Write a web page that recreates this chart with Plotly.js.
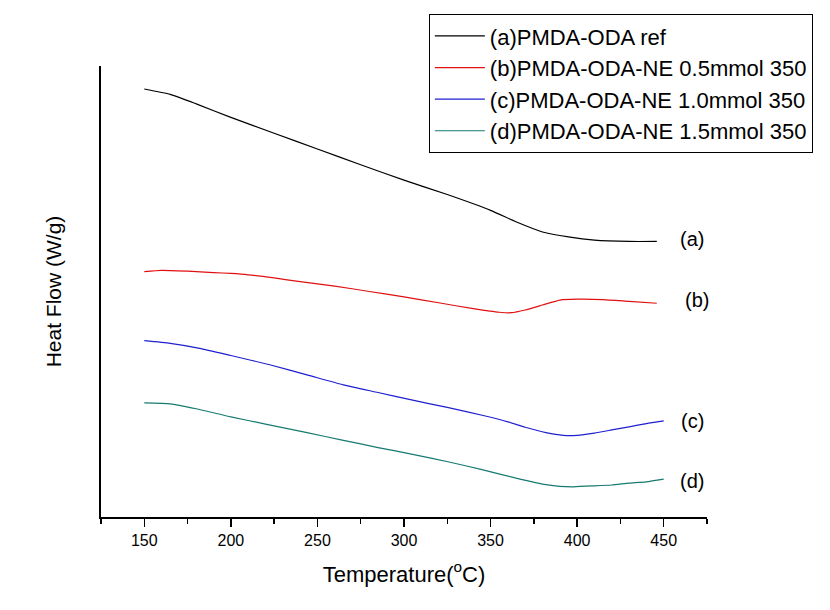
<!DOCTYPE html>
<html>
<head>
<meta charset="utf-8">
<script src="https://cdn.plot.ly/plotly-3.0.1.min.js"></script>
<style>html,body{margin:0;padding:0;background:#fff;}</style>
</head>
<body>
<div id="chart" style="width:830px;height:610px;"></div>
<script>
// Temperature (°C) and heat flow (arbitrary, offset units)
var tempA = [150,165,180,200,225,250,275,300,325,350,365,380,395,410,430,446];
var flowA = [94.9,93.7,91.6,88.6,85.1,81.6,78.1,74.7,71.5,68.0,65.4,63.2,62.1,61.4,61.1,61.1];

var tempB = [150,160,175,190,200,210,225,240,260,280,300,320,340,355,362,370,380,390,400,415,430,446];
var flowB = [54.4,54.7,54.5,54.2,54.0,53.7,53.0,52.2,51.2,50.0,48.8,47.5,46.2,45.4,45.3,45.9,47.0,48.1,48.3,48.2,47.8,47.4];

var tempC = [150,165,182,200,223,245,265,285,305,325,347,360,370,382,392,400,410,420,430,440,450];
var flowC = [39.1,38.5,37.4,35.8,33.7,31.4,29.3,27.6,25.9,24.3,22.4,21.1,19.9,18.7,18.1,18.1,18.6,19.3,20.0,20.7,21.3];

var tempD = [150,165,180,200,220,244,265,285,305,326,345,367,380,390,398,410,420,430,440,450];
var flowD = [25.3,25.1,24.0,22.2,20.6,18.7,17.0,15.4,13.9,12.2,10.5,8.4,7.3,6.8,6.7,6.9,7.1,7.5,7.8,8.4];

var seriesNames = ["(a)PMDA-ODA ref","(b)PMDA-ODA-NE 0.5mmol 350","(c)PMDA-ODA-NE 1.0mmol 350","(d)PMDA-ODA-NE 1.5mmol 350"];
var curveLabels = ["(a)","(b)","(c)","(d)"];
var labelX = [466.5, 469, 466.5, 466.5];
var labelY = [61.6, 48.1, 21.3, 8.0];
var colors = ["#000000","#e01010","#2020d0","#157a70"];

var xs = [tempA,tempB,tempC,tempD];
var ys = [flowA,flowB,flowC,flowD];
var FONT = "Arial, 'Liberation Sans', sans-serif";

var traces = xs.map(function(x,i){
  return {x:x, y:ys[i], type:"scatter", mode:"lines", name:seriesNames[i],
    line:{color:colors[i], width:1.2, shape:"spline", smoothing:0.5}};
});

var annotations = curveLabels.map(function(t,i){
  return {x:labelX[i], y:labelY[i], xref:"x", yref:"y", text:t, showarrow:false,
    font:{family:FONT, size:20, color:"#000"}, xanchor:"center", yanchor:"middle"};
});

var layout = {
  width:830, height:610,
  margin:{l:101, r:123, t:66, b:93},
  paper_bgcolor:"#fff", plot_bgcolor:"#fff",
  font:{family:FONT, color:"#000"},
  showlegend:true,
  legend:{x:0.541, y:1.115, xanchor:"left", yanchor:"top", bgcolor:"#fff",
    bordercolor:"#000", borderwidth:1, font:{family:FONT, size:22, color:"#000"},
    itemwidth:50, tracegroupgap:0},
  xaxis:{range:[125,475], tick0:150, dtick:50, ticks:"outside", ticklen:8, tickwidth:1.5,
    tickcolor:"#000", showline:true, linecolor:"#000", linewidth:2, showgrid:false, zeroline:false,
    tickfont:{family:FONT, size:16, color:"#000"},
    minor:{tick0:125, dtick:25, ticks:"outside", ticklen:5, tickwidth:1.5, tickcolor:"#000", showgrid:false},
    title:{text:"Temperature(<sup>o</sup>C)", font:{family:FONT, size:22, color:"#000"}, standoff:18}},
  yaxis:{range:[0,100], showticklabels:false, ticks:"", showline:true, linecolor:"#000", linewidth:2,
    showgrid:false, zeroline:false,
    title:{text:"Heat Flow (W/g)", font:{family:FONT, size:21, color:"#000"}, standoff:32}},
  annotations:annotations
};

Plotly.newPlot("chart", traces, layout, {displayModeBar:false, staticPlot:true});
</script>
</body>
</html>
